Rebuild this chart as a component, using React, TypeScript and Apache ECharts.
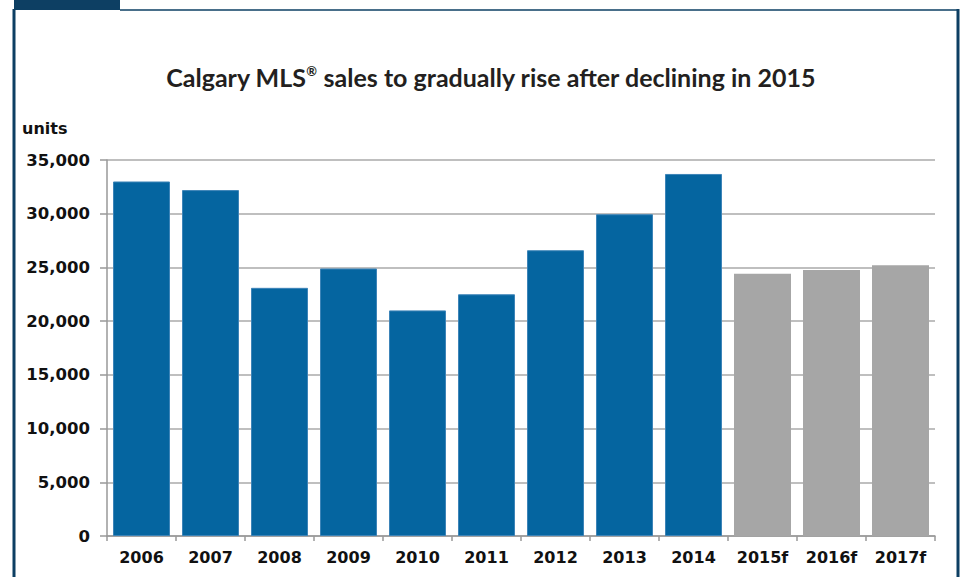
import React, { useEffect, useRef } from "react";
import * as echarts from "echarts";

const categories = ["2006", "2007", "2008", "2009", "2010", "2011", "2012", "2013", "2014", "2015f", "2016f", "2017f"];
const salesValues = [33000, 32200, 23100, 24900, 21000, 22500, 26600, 29950, 33700, 24400, 24750, 25200];
const forecastFlags = [false, false, false, false, false, false, false, false, false, true, true, true];
const yTicks = [0, 5000, 10000, 15000, 20000, 25000, 30000, 35000];

const BLUE = "#0565a0";
const GRAY = "#a6a6a6";
const FRAME = "#0d3f63";
const LABEL_FONT = "'DejaVu Sans', Verdana, sans-serif";

export default function App() {
  const ref = useRef<HTMLDivElement>(null);
  useEffect(() => {
    if (!ref.current) return;
    const chart = echarts.init(ref.current, null, { renderer: "svg" });
    chart.setOption({
      animation: false,
      backgroundColor: "#ffffff",
      title: {
        text: "{t|Calgary MLS}{s|®}{t| sales to gradually rise after declining in 2015}",
        left: 486,
        textAlign: "center",
        top: 59,
        textStyle: {
          rich: {
            t: { fontFamily: "Lato, 'Open Sans', sans-serif", fontWeight: "bold", fontSize: 25, color: "#231f20" },
            s: { fontFamily: "Lato, sans-serif", fontWeight: "bold", fontSize: 13, color: "#231f20", verticalAlign: "top", padding: [0, 0, 12, 0] },
          },
        },
      },
      grid: { left: 107, right: 27, top: 160, bottom: 41 },
      xAxis: {
        type: "category",
        data: categories,
        axisLine: { lineStyle: { color: "#999999", width: 1.5 } },
        axisTick: { show: true, length: 5, lineStyle: { color: "#999999", width: 1.5 } },
        axisLabel: {
          color: "#111111",
          fontFamily: LABEL_FONT,
          fontWeight: "bold",
          fontSize: 16,
          margin: 13,
        },
      },
      yAxis: {
        type: "value",
        min: yTicks[0],
        max: yTicks[yTicks.length - 1],
        interval: 5000,
        name: "units",
        nameLocation: "end",
        nameGap: 0,
        nameTextStyle: {
          fontFamily: LABEL_FONT,
          fontWeight: "bold",
          fontSize: 16,
          color: "#111111",
          align: "left",
          padding: [0, 0, 24, -85],
        },
        axisLine: { show: true, lineStyle: { color: "#999999", width: 1.5 } },
        axisTick: { show: true, length: 7, lineStyle: { color: "#999999", width: 1.5 } },
        splitLine: { lineStyle: { color: "#bfbfbf", width: 2 } },
        axisLabel: {
          color: "#111111",
          fontFamily: LABEL_FONT,
          fontWeight: "bold",
          fontSize: 16.5,
          margin: 17,
          formatter: (v: number) => v.toLocaleString("en-US"),
        },
      },
      series: [
        {
          type: "bar",
          barWidth: 57,
          data: salesValues.map((v, i) => ({
            value: v,
            itemStyle: forecastFlags[i]
              ? { color: GRAY }
              : { color: BLUE, borderColor: "#3d84b8", borderWidth: 1 },
          })),
        },
      ],
      graphic: [
        { type: "rect", shape: { x: 14, y: 0, width: 106, height: 10 }, style: { fill: FRAME } },
        { type: "line", shape: { x1: 120, y1: 10, x2: 959, y2: 10 }, style: { stroke: FRAME, lineWidth: 1.5 } },
        { type: "line", shape: { x1: 14, y1: 9, x2: 14, y2: 577 }, style: { stroke: FRAME, lineWidth: 3 } },
        { type: "line", shape: { x1: 958, y1: 9, x2: 958, y2: 577 }, style: { stroke: FRAME, lineWidth: 3 } },
      ],
    });
    return () => chart.dispose();
  }, []);
  return (
    <div
      ref={ref}
      style={{ position: "absolute", left: 0, top: 0, width: 962, height: 577 }}
    />
  );
}
